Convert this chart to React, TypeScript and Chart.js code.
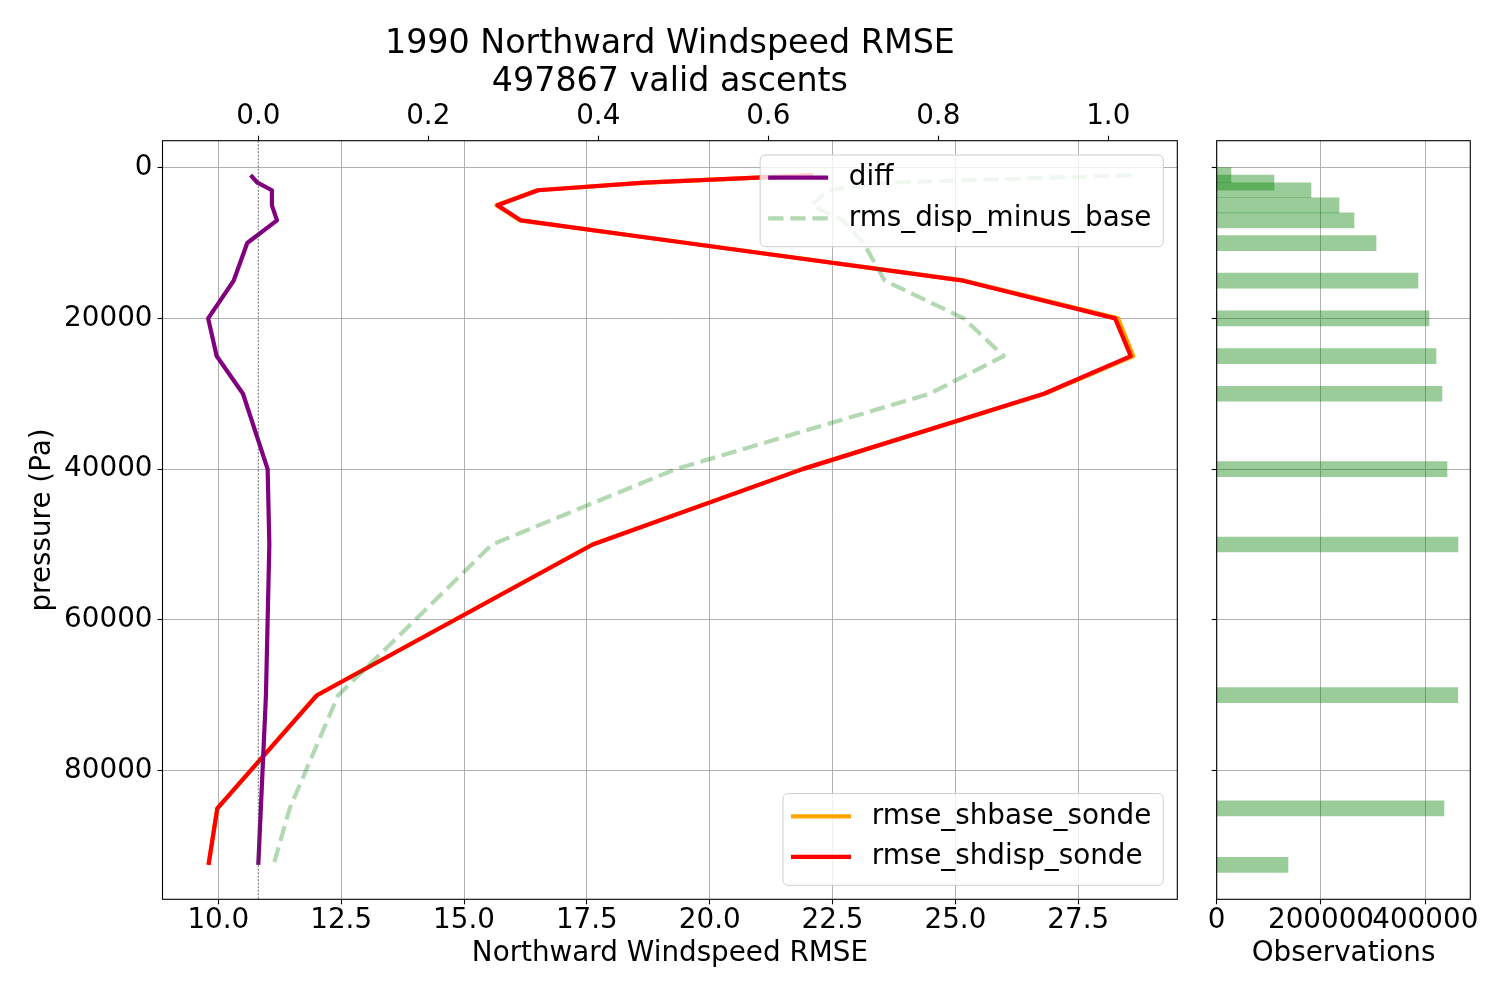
import React, { useEffect, useRef } from 'react';
import { Chart, registerables } from 'chart.js';

Chart.register(...registerables);

// pressure levels (Pa) of the profile
const PRESSURE = [1000, 2000, 3000, 5000, 7000, 10000, 15000, 20000, 25000, 30000, 40000, 50000, 70000, 85000, 92500];
// RMSE against sondes, bottom axis
const RMSE_SHBASE = [22.11, 18.68, 16.49, 15.66, 16.14, 19.54, 25.19, 28.31, 28.62, 26.82, 21.88, 17.61, 12.0, 9.98, 9.8];
const RMSE_SHDISP = [22.1, 18.68, 16.51, 15.68, 16.16, 19.53, 25.16, 28.25, 28.57, 26.8, 21.89, 17.62, 12.01, 9.98, 9.8];
// twin (top) axis series
const DIFF = [-0.009, -0.001, 0.016, 0.016, 0.022, -0.013, -0.029, -0.059, -0.049, -0.018, 0.011, 0.013, 0.009, 0.003, 0.0];
const RMS_DISP_MINUS_BASE = [1.027, 0.739, 0.67, 0.651, 0.688, 0.712, 0.737, 0.83, 0.877, 0.79, 0.491, 0.275, 0.094, 0.037, 0.018];
// observation counts per level
const OBSERVATIONS = [27400, 109900, 180800, 234500, 263300, 305500, 386000, 407100, 420500, 432000, 441600, 462700, 462300, 435800, 136700];

const PRESSURE_TICKS = [0, 20000, 40000, 60000, 80000];
const RMSE_TICKS = [10, 12.5, 15, 17.5, 20, 22.5, 25, 27.5];
const DIFF_TICKS = [0, 0.2, 0.4, 0.6, 0.8, 1.0];
const OBS_TICKS = [0, 200000, 400000];

const TITLE = ['1990 Northward Windspeed RMSE', '497867 valid ascents'];

// axis limits
const X_MIN = 8.864;
const X_MAX = 29.516;
const X2_MIN = -0.1127;
const X2_MAX = 1.0812;
const Y_MIN = -3575;
const Y_MAX = 97075;
const OBS_MAX = 486300;
const BAR_HEIGHT_PA = 2000;

// layout
const H = 1000;
const W_MAIN = 1190;
const W_OBS = 310;
const AREA = { left: 162.5, right: 1177.3, top: 140.7, bottom: 899.3 };
const OBS_LEFT = 1216.7 - W_MAIN;
const OBS_RIGHT = 1470.3 - W_MAIN;

const FAMILY = 'DejaVu Sans';
const FS = 27.8;
const TITLE_FS = 33.3;
const TITLE_LH = 38.7;
const TITLE_PAD = 24.6;
const TITLE_H = TITLE_LH * 2 + TITLE_PAD;

const tickFont = { family: FAMILY, size: FS, lineHeight: 1 };
const labelFont = { family: FAMILY, size: FS };

const gridOpts = { color: '#b0b0b0', lineWidth: 1, tickColor: '#000', tickLength: 5, tickWidth: 1.1 };

const profile = (xs: number[]) => xs.map((x, i) => ({ x, y: PRESSURE[i] }));
const setTicks = (values: number[]) => (scale: any) => {
    scale.ticks = values.map((value) => ({ value }));
};

// black box around the plot area, like matplotlib spines
const framePlugin = {
    id: 'frame',
    afterDatasetsDraw(chart: any) {
        const { ctx, chartArea } = chart;
        ctx.save();
        ctx.strokeStyle = '#000';
        ctx.lineWidth = 1.1;
        ctx.strokeRect(chartArea.left, chartArea.top, chartArea.right - chartArea.left, chartArea.bottom - chartArea.top);
        ctx.restore();
    }
};

// legends drawn inside the plot area
const insideLegendPlugin = {
    id: 'insideLegends',
    afterDatasetsDraw(chart: any, _args: any, opts: any) {
        const { ctx, chartArea } = chart;
        for (const group of opts.groups || []) {
            const items = group.labels.map((l: string) => chart.data.datasets.find((d: any) => d.label === l));
            ctx.save();
            ctx.font = `${FS}px "${FAMILY}"`;
            const textW = Math.max(...items.map((d: any) => ctx.measureText(d.label).width));
            const w = 8 + 60 + 20.7 + textW + 12;
            const h = 91.7;
            const x = chartArea.right - 14 - w;
            const y = group.corner === 'top' ? chartArea.top + 14.3 : chartArea.bottom - 14 - h;
            ctx.beginPath();
            ctx.roundRect(x, y, w, h, 5);
            ctx.fillStyle = 'rgba(255,255,255,0.8)';
            ctx.fill();
            ctx.strokeStyle = '#cccccc';
            ctx.lineWidth = 1;
            ctx.stroke();
            items.forEach((d: any, i: number) => {
                const cy = y + 22.7 + i * 40.6;
                ctx.beginPath();
                ctx.setLineDash(d.borderDash || []);
                ctx.strokeStyle = d.borderColor;
                ctx.lineWidth = d.borderWidth;
                ctx.lineCap = 'butt';
                ctx.moveTo(x + 8, cy);
                ctx.lineTo(x + 68, cy);
                ctx.stroke();
                ctx.setLineDash([]);
                ctx.fillStyle = '#000';
                ctx.textAlign = 'left';
                ctx.textBaseline = 'middle';
                ctx.fillText(d.label, x + 88.7, cy);
            });
            ctx.restore();
        }
    }
};

const MainChart: React.FC = () => {
    const canvasRef = useRef<HTMLCanvasElement>(null);

    useEffect(() => {
        let chart: Chart | undefined;
        if (canvasRef.current) {
            const line = { pointRadius: 0, borderWidth: 4.2, tension: 0, fill: false, borderJoinStyle: 'round' as const };
            chart = new Chart(canvasRef.current, {
                type: 'line',
                data: {
                    datasets: [
                        { ...line, label: 'rmse_shbase_sonde', data: profile(RMSE_SHBASE), xAxisID: 'x', yAxisID: 'y', borderColor: '#ffa500', order: 5 },
                        { ...line, label: 'rmse_shdisp_sonde', data: profile(RMSE_SHDISP), xAxisID: 'x', yAxisID: 'y', borderColor: '#ff0000', order: 4 },
                        { ...line, label: 'diff', data: profile(DIFF), xAxisID: 'x2', yAxisID: 'y', borderColor: '#800080', order: 3 },
                        {
                            ...line,
                            label: 'rms_disp_minus_base',
                            data: profile(RMS_DISP_MINUS_BASE),
                            xAxisID: 'x2',
                            yAxisID: 'y',
                            borderColor: 'rgba(0,128,0,0.3)',
                            borderDash: [15.4, 6.7],
                            borderCapStyle: 'butt',
                            order: 2
                        },
                        {
                            label: 'zero',
                            data: [{ x: 0, y: Y_MIN }, { x: 0, y: Y_MAX }],
                            xAxisID: 'x2',
                            yAxisID: 'y',
                            pointRadius: 0,
                            borderWidth: 0.8,
                            borderColor: '#444',
                            borderDash: [2, 1.5],
                            order: 1
                        }
                    ]
                },
                options: {
                    responsive: false,
                    animation: false,
                    layout: { padding: { left: 0, right: W_MAIN - AREA.right, top: 0, bottom: 0 } },
                    scales: {
                        x: {
                            type: 'linear',
                            position: 'bottom',
                            min: X_MIN,
                            max: X_MAX,
                            afterBuildTicks: setTicks(RMSE_TICKS),
                            afterFit: (s: any) => { s.height = H - AREA.bottom; },
                            ticks: { font: tickFont, color: '#000', padding: 2.5, autoSkip: false, maxRotation: 0, minRotation: 0, callback: (v: any) => Number(v).toFixed(1) },
                            grid: gridOpts,
                            border: { display: false },
                            title: { display: true, text: 'Northward Windspeed RMSE', font: labelFont, color: '#000', padding: { top: 0, bottom: 29.5 } }
                        },
                        x2: {
                            type: 'linear',
                            position: 'top',
                            min: X2_MIN,
                            max: X2_MAX,
                            afterBuildTicks: setTicks(DIFF_TICKS),
                            afterFit: (s: any) => { s.height = AREA.top - TITLE_H; },
                            ticks: { font: tickFont, color: '#000', padding: 5, autoSkip: false, maxRotation: 0, minRotation: 0, callback: (v: any) => Number(v).toFixed(1) },
                            grid: { ...gridOpts, drawOnChartArea: false },
                            border: { display: false }
                        },
                        y: {
                            type: 'linear',
                            reverse: true,
                            min: Y_MIN,
                            max: Y_MAX,
                            afterBuildTicks: setTicks(PRESSURE_TICKS),
                            afterFit: (s: any) => { s.width = AREA.left; },
                            ticks: { font: tickFont, color: '#000', padding: 5, autoSkip: false, callback: (v: any) => String(v) },
                            grid: gridOpts,
                            border: { display: false },
                            title: { display: true, text: 'pressure (Pa)', font: labelFont, color: '#000', padding: { top: 26.3, bottom: 0 } }
                        }
                    },
                    plugins: {
                        legend: { display: false },
                        tooltip: { enabled: false },
                        title: {
                            display: true,
                            text: TITLE,
                            fullSize: false,
                            color: '#000',
                            font: { family: FAMILY, size: TITLE_FS, weight: 'normal', lineHeight: TITLE_LH / TITLE_FS },
                            padding: { top: TITLE_PAD, bottom: 0 }
                        },
                        insideLegends: {
                            groups: [
                                { corner: 'top', labels: ['diff', 'rms_disp_minus_base'] },
                                { corner: 'bottom', labels: ['rmse_shbase_sonde', 'rmse_shdisp_sonde'] }
                            ]
                        }
                    } as any
                },
                plugins: [framePlugin, insideLegendPlugin]
            } as any);
        }
        return () => {
            if (chart) chart.destroy();
        };
    }, []);

    return <canvas ref={canvasRef} width={W_MAIN} height={H} style={{ position: 'absolute', left: 0, top: 0, width: W_MAIN, height: H }} />;
};

const ObsChart: React.FC = () => {
    const canvasRef = useRef<HTMLCanvasElement>(null);

    useEffect(() => {
        let chart: Chart | undefined;
        if (canvasRef.current) {
            const barPx = ((AREA.bottom - AREA.top) * BAR_HEIGHT_PA) / (Y_MAX - Y_MIN);
            chart = new Chart(canvasRef.current, {
                type: 'bar',
                data: {
                    datasets: [
                        {
                            label: 'Observations',
                            data: PRESSURE.map((y, i) => ({ x: OBSERVATIONS[i], y })),
                            backgroundColor: 'rgba(0,128,0,0.4)',
                            borderWidth: 0,
                            barThickness: barPx
                        }
                    ]
                },
                options: {
                    indexAxis: 'y',
                    responsive: false,
                    animation: false,
                    layout: { padding: { left: 0, right: W_OBS - OBS_RIGHT, top: AREA.top, bottom: 0 } },
                    scales: {
                        x: {
                            type: 'linear',
                            position: 'bottom',
                            min: 0,
                            max: OBS_MAX,
                            afterBuildTicks: setTicks(OBS_TICKS),
                            afterFit: (s: any) => { s.height = H - AREA.bottom; },
                            ticks: { font: tickFont, color: '#000', padding: 2.5, autoSkip: false, maxRotation: 0, minRotation: 0, callback: (v: any) => String(v) },
                            grid: gridOpts,
                            border: { display: false },
                            title: { display: true, text: 'Observations', font: labelFont, color: '#000', padding: { top: 0, bottom: 29.5 } }
                        },
                        y: {
                            type: 'linear',
                            reverse: true,
                            min: Y_MIN,
                            max: Y_MAX,
                            offset: false,
                            afterBuildTicks: setTicks(PRESSURE_TICKS),
                            afterFit: (s: any) => { s.width = OBS_LEFT; },
                            ticks: { display: false },
                            grid: { ...gridOpts, offset: false },
                            border: { display: false }
                        }
                    },
                    plugins: {
                        legend: { display: false },
                        tooltip: { enabled: false }
                    }
                },
                plugins: [framePlugin]
            } as any);
        }
        return () => {
            if (chart) chart.destroy();
        };
    }, []);

    return <canvas ref={canvasRef} width={W_OBS} height={H} style={{ position: 'absolute', left: W_MAIN, top: 0, width: W_OBS, height: H }} />;
};

export default function App() {
    return (
        <div style={{ position: 'absolute', left: 0, top: 0, width: 1500, height: H, background: '#fff', overflow: 'hidden' }}>
            <MainChart />
            <ObsChart />
        </div>
    );
}
